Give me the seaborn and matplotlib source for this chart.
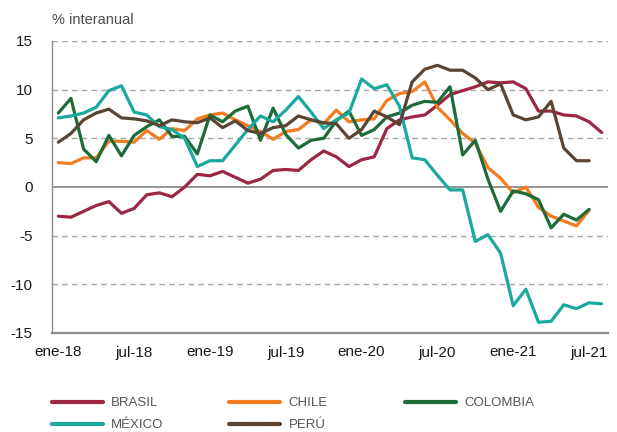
import numpy as np
import pandas as pd
import matplotlib
matplotlib.use("Agg")
import matplotlib.pyplot as plt
import seaborn as sns
from matplotlib.lines import Line2D
from matplotlib import font_manager

# --- Data (monthly, ene-18 .. ago-21, % interanual) ---
months = pd.date_range("2018-01-01", "2021-08-01", freq="MS")
tick_labels = ["ene-18", "jul-18", "ene-19", "jul-19", "ene-20", "jul-20", "ene-21", "jul-21"]

brasil = [-3.0, -3.1, -2.5, -1.9, -1.5, -2.7, -2.2, -0.8, -0.6, -1.0, 0.0, 1.3,
          1.15, 1.6, 1.0, 0.4, 0.8, 1.7, 1.8, 1.7, 2.8, 3.7, 3.1, 2.1,
          2.8, 3.1, 6.0, 6.9, 7.2, 7.4, 8.4, 9.5, 9.9, 10.3, 10.8, 10.7,
          10.8, 10.1, 7.8, 7.8, 7.4, 7.3, 6.7, 5.6]
chile = [2.5, 2.4, 3.0, 3.0, 4.7, 4.7, 4.6, 5.8, 4.9, 6.0, 5.8, 7.0,
         7.4, 7.6, 6.9, 6.3, 5.7, 4.9, 5.7, 5.9, 6.9, 6.5, 7.9, 6.7,
         6.9, 7.0, 8.9, 9.6, 9.8, 10.8, 8.2, 6.9, 5.5, 4.5, 2.0, 0.9,
         -0.6, 0.0, -2.1, -3.0, -3.5, -4.0, -2.4]
colombia = [7.6, 9.1, 3.9, 2.6, 5.3, 3.2, 5.3, 6.2, 6.9, 5.2, 5.2, 3.4,
            7.4, 6.7, 7.8, 8.3, 4.8, 8.1, 5.4, 4.0, 4.8, 5.0, 6.8, 7.8,
            5.3, 5.9, 7.2, 7.6, 8.4, 8.8, 8.7, 10.3, 3.3, 4.8, 0.8, -2.5,
            -0.4, -0.7, -1.3, -4.2, -2.8, -3.4, -2.3]
mexico = [7.1, 7.3, 7.6, 8.2, 9.9, 10.4, 7.7, 7.4, 6.2, 5.9, 5.0, 2.1,
          2.7, 2.7, 4.3, 5.9, 7.3, 6.7, 7.9, 9.3, 7.7, 6.0, 6.9, 7.6,
          11.1, 10.1, 10.5, 8.3, 3.0, 2.8, 1.2, -0.3, -0.3, -5.6, -4.9, -6.8,
          -12.2, -10.5, -13.9, -13.8, -12.1, -12.5, -11.9, -12.0]
peru = [4.6, 5.5, 6.9, 7.6, 8.0, 7.1, 7.0, 6.8, 6.3, 6.9, 6.7, 6.6,
        7.1, 6.1, 6.8, 5.8, 5.5, 6.1, 6.3, 7.3, 6.9, 6.6, 6.5, 5.0,
        5.9, 7.8, 7.2, 6.4, 10.8, 12.1, 12.5, 12.0, 12.0, 11.2, 10.0, 10.6,
        7.4, 6.9, 7.2, 8.8, 4.0, 2.7, 2.7]

series = {"BRASIL": brasil, "CHILE": chile, "COLOMBIA": colombia,
          "MÉXICO": mexico, "PERÚ": peru}
colors = {"BRASIL": "#9b2743", "CHILE": "#f47c20", "COLOMBIA": "#1d6b38",
          "MÉXICO": "#1aa99d", "PERÚ": "#5a4434"}

# long table: month index as category position
frames = []
for name, vals in series.items():
    frames.append(pd.DataFrame({"pos": np.arange(len(vals)), "valor": vals, "pais": name}))
df = pd.concat(frames, ignore_index=True)

# --- Plot ---
sns.set_style("white")
plt.rcParams["font.family"] = ["Liberation Sans", "DejaVu Sans"]
plt.rcParams["axes.unicode_minus"] = False

# condensed face for the legend if one is installed
installed = {f.name for f in font_manager.fontManager.ttflist}
legend_family = "Liberation Sans Narrow" if "Liberation Sans Narrow" in installed else "Liberation Sans"
legend_size = 10.5 if legend_family == "Liberation Sans Narrow" else 9.5

fig = plt.figure(figsize=(6.17, 4.32), dpi=100)
ax = fig.add_axes([52 / 617, 1 - 333 / 432, 556 / 617, 292 / 432])

for y in [15, 10, 5, -5, -10]:
    ax.axhline(y, color="#a6a6a6", lw=1.0, ls=(0, (4, 3)), zorder=0)
ax.axhline(0, color="#8c8c8c", lw=1.3, zorder=0)

sns.lineplot(data=df, x="pos", y="valor", hue="pais", palette=colors,
             hue_order=list(series), lw=2.3, legend=False, ax=ax)
for line in ax.get_lines():
    line.set_solid_joinstyle("round")

ax.set_xlim(-0.5, len(months) - 0.5)
ax.set_ylim(-15, 15)
ax.set_yticks(np.arange(-15, 16, 5))
ax.set_xticks(np.arange(0, len(months), 6))
ax.set_xticklabels(tick_labels)
ax.set_xticks(np.arange(-0.5, len(months), 6), minor=True)
ax.tick_params(axis="x", which="major", length=0, pad=9, labelsize=11, labelcolor="#1a1a1a")
ax.tick_params(axis="x", which="minor", length=4, width=0.8, direction="in", color="#8c8c8c")
ax.tick_params(axis="y", length=0, pad=14, labelsize=11, labelcolor="#1a1a1a")
ax.set_xlabel("")
ax.set_ylabel("")

sns.despine(ax=ax)
ax.spines["left"].set_color("#8c8c8c")
ax.spines["left"].set_linewidth(1.0)
ax.spines["bottom"].set_color("#8c8c8c")
ax.spines["bottom"].set_linewidth(1.6)

fig.text(52 / 617, 1 - 20 / 432, "% interanual", fontsize=10.5, color="#4d4d4d",
         va="center", ha="left")

# legend in three columns placed by hand
legend_cols = [(52, ["BRASIL", "MÉXICO"]), (229, ["CHILE", "PERÚ"]), (405, ["COLOMBIA"])]
for x0, names in legend_cols:
    handles = [Line2D([], [], color=colors[n], lw=3) for n in names]
    leg = fig.legend(handles, names, loc="upper left",
                     bbox_to_anchor=(x0 / 617, 1 - 397 / 432), frameon=False,
                     borderpad=0, borderaxespad=0, handlelength=3.9, handletextpad=0.6,
                     labelspacing=0.75,
                     prop={"family": legend_family, "size": legend_size})
    for t in leg.get_texts():
        t.set_color("#555555")

fig.savefig("out.png", dpi=100)
